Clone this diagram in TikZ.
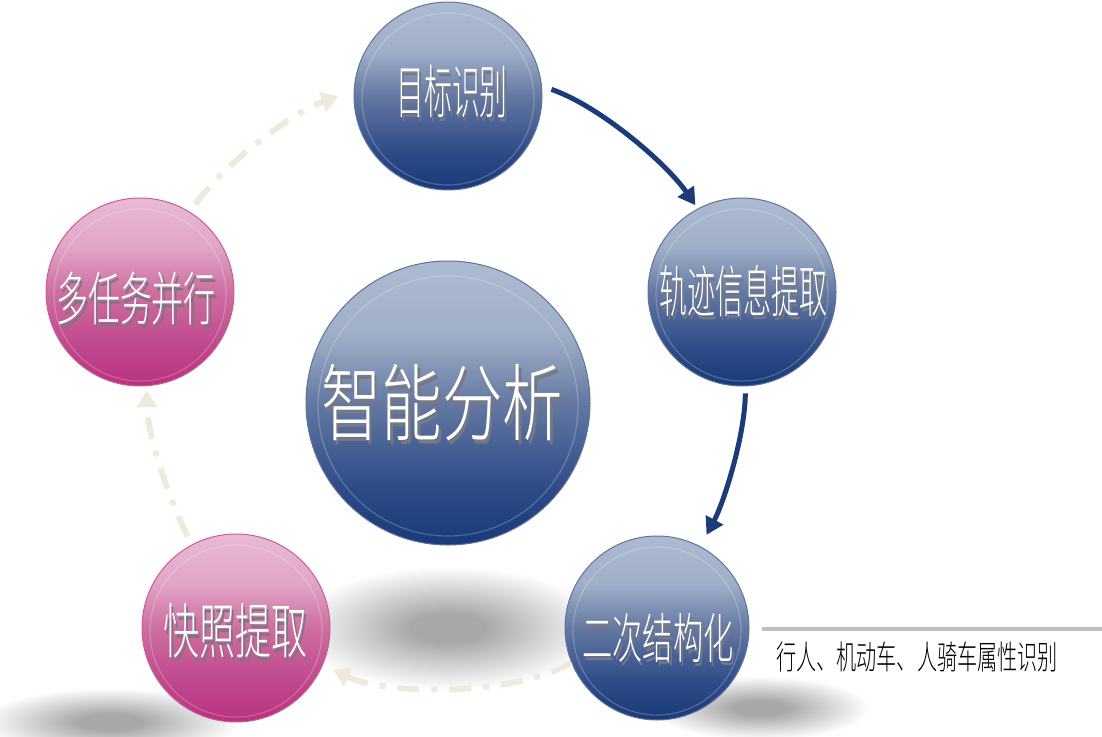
\documentclass[tikz,border=0pt]{standalone}
\usepackage{fontspec}
\usepackage{graphicx}
\newfontfamily\cjk{Noto Sans CJK SC Light}
\usetikzlibrary{arrows.meta}
\definecolor{blight}{RGB}{172,187,208}
\definecolor{bhi}{RGB}{160,175,200}
\definecolor{bmid}{RGB}{100,120,162}
\definecolor{blow}{RGB}{45,75,135}
\definecolor{bdark}{RGB}{24,58,120}
\definecolor{brim}{RGB}{95,115,160}
\definecolor{plight}{RGB}{232,186,214}
\definecolor{phi}{RGB}{225,165,200}
\definecolor{pmid}{RGB}{205,110,160}
\definecolor{plow}{RGB}{192,70,140}
\definecolor{pdark}{RGB}{185,50,128}
\definecolor{prim}{RGB}{200,95,150}
\definecolor{shd}{RGB}{168,168,168}
\definecolor{beige}{RGB}{238,235,222}
\definecolor{navy}{RGB}{27,60,120}
\definecolor{linegray}{RGB}{190,190,190}
\definecolor{txtshadow}{RGB}{120,120,130}
\pgfdeclareverticalshading{blueball}{100bp}{color(0bp)=(bdark); color(25bp)=(bdark); color(35bp)=(blow); color(50bp)=(bmid); color(62bp)=(bhi); color(75bp)=(blight); color(100bp)=(blight)}
\pgfdeclareverticalshading{pinkball}{100bp}{color(0bp)=(pdark); color(25bp)=(pdark); color(35bp)=(plow); color(50bp)=(pmid); color(62bp)=(phi); color(75bp)=(plight); color(100bp)=(plight)}
\pgfdeclareradialshading{shadowr}{\pgfpoint{0bp}{0bp}}{color(0bp)=(shd); color(6bp)=(shd); color(25bp)=(white); color(50bp)=(white)}
\newcommand{\shtext}[3]{\fontsize{#1pt}{#1pt}\selectfont\cjk\scalebox{#2}[1]{\rlap{\kern4pt\raisebox{-4pt}{\color{txtshadow}#3}}#3}}
\tikzset{
  ball/.style={circle, inner sep=0pt, minimum size=188pt, text=white, line width=1pt},
  blueb/.style={ball, shading=blueball, draw=brim},
  pinkb/.style={ball, shading=pinkball, draw=prim},
  glass/.style={white, opacity=0.22, line width=1.2pt},
  flow/.style={navy, line width=5pt, -{Triangle[length=17pt,width=19pt]}},
  back/.style={beige, line width=6pt, dash pattern=on 22pt off 12pt on 6pt off 12pt, -{Triangle[length=17pt,width=20pt]}},
  shadowe/.style={shading=shadowr}
}
\begin{document}
\begin{tikzpicture}[x=1pt,y=-1pt]
\useasboundingbox (0,0) rectangle (1102,736);
% shadows
\shade[shadowe] (448,628) ellipse [x radius=155pt, y radius=62pt];
\shade[shadowe] (110,722) ellipse [x radius=130pt, y radius=34pt];
\shade[shadowe] (760,708) ellipse [x radius=110pt, y radius=32pt];
% circles
\node[blueb, minimum size=284pt] (M) at (448,403) {};
\node[blueb] (A) at (448,96) {};
\node[blueb] (B) at (742,292) {};
\node[blueb, minimum size=184pt] (C) at (657,628) {};
\node[pinkb] (D) at (236,628) {};
\node[pinkb] (E) at (140,292) {};
% glass rings
\foreach \n/\r in {A/86,B/86,C/84,D/86,E/86,M/130}{
  \draw[glass] (\n.center) ++(0,3) circle (\r pt);
}
% labels
\node[text=white] (Mt) at (442,405) {\shtext{84}{0.72}{智能分析}};
\node[text=white] (At) at (452,94) {\shtext{58}{0.48}{目标识别}};
\node[text=white] (Bt) at (743,293) {\shtext{56}{0.5}{轨迹信息提取}};
\node[text=white] (Ct) at (658,640) {\shtext{54}{0.56}{二次结构化}};
\node[text=white] (Dt) at (235,633) {\shtext{60}{0.6}{快照提取}};
\node[text=white] (Et) at (136,301) {\shtext{58}{0.55}{多任务并行}};
% arrows
\draw[flow, shorten <=10pt, shorten >=4pt] (A.6) .. controls +(58,20) and +(-31,-45) .. (B.118);
\draw[flow, shorten <=7pt, shorten >=13pt] (B.272) .. controls +(0,47) and +(24,-45) .. (C.62);
\draw[back, shorten >=11pt] (C.202) .. controls +(-53,32) and +(67,32) .. (D.337);
\draw[back, shorten <=9pt, shorten >=4pt] (D.118) .. controls +(-23,-47) and +(1,50) .. (E.274);
\draw[back, shorten <=9pt, shorten >=16pt] (E.58) .. controls +(35,-50) and +(-58,20) .. (A.177);
% description
\coordinate (l1) at (762,629);
\coordinate (l2) at (1102,629);
\draw[linegray, line width=4pt] (l1) -- (l2);
\node (desc) at (917,657) {\fontsize{33pt}{33pt}\selectfont\cjk\scalebox{0.61}[1]{行人、机动车、人骑车属性识别}};
\end{tikzpicture}
\end{document}
